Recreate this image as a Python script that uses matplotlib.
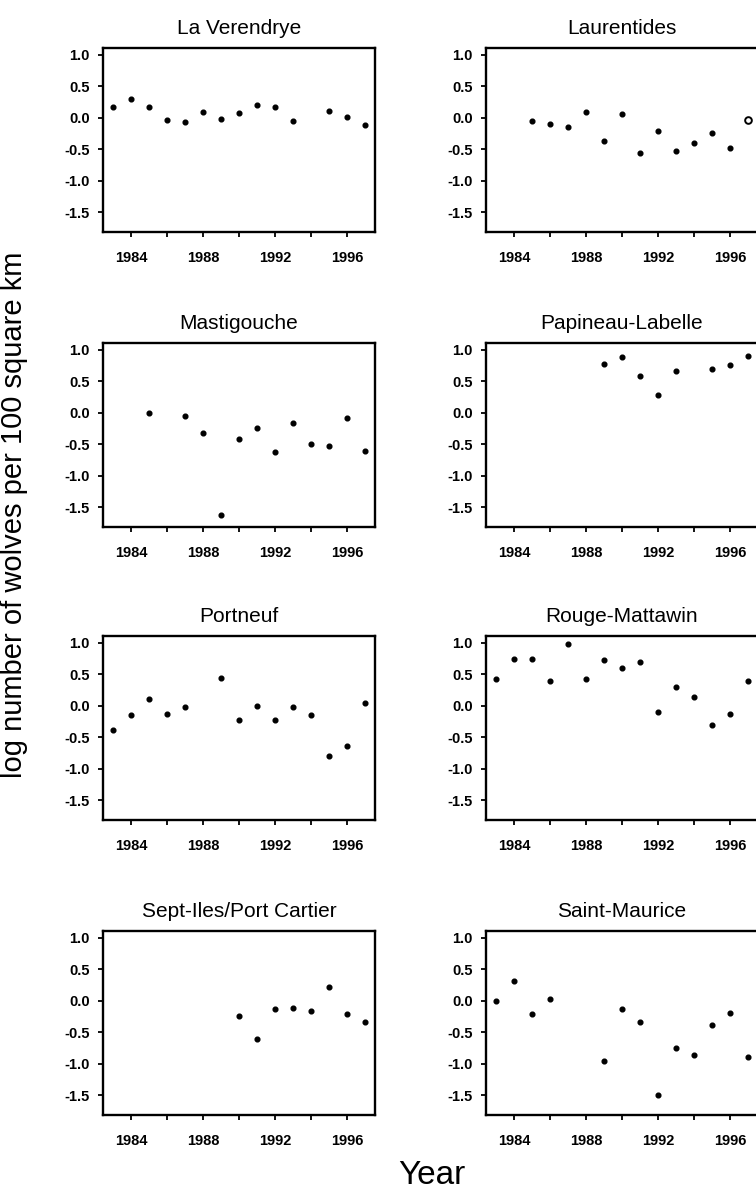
import matplotlib
matplotlib.use("Agg")
import matplotlib.pyplot as plt
import numpy as np

plt.rcParams['font.family'] = ['Liberation Sans', 'DejaVu Sans']

# ---------------------------------------------------------------
# Data: log number of wolves per 100 square km, by region
# ---------------------------------------------------------------
regions = ["La Verendrye", "Laurentides",
           "Mastigouche", "Papineau-Labelle",
           "Portneuf", "Rouge-Mattawin",
           "Sept-Iles/Port Cartier", "Saint-Maurice"]

verendrye_years = [1983, 1984, 1985, 1986, 1987, 1988, 1989, 1990, 1991, 1992, 1993, 1995, 1996, 1997]
verendrye_vals = [0.18, 0.30, 0.17, -0.03, -0.06, 0.10, -0.02, 0.08, 0.21, 0.17, -0.05, 0.11, 0.01, -0.11]

laurentides_years = [1985, 1986, 1987, 1988, 1989, 1990, 1991, 1992, 1993, 1994, 1995, 1996, 1997]
laurentides_vals = [-0.05, -0.10, -0.14, 0.09, -0.37, 0.06, -0.55, -0.20, -0.53, -0.40, -0.24, -0.47, -0.04]
laurentides_open = [1997]  # drawn as open circle

mastigouche_years = [1985, 1987, 1988, 1989, 1990, 1991, 1992, 1993, 1994, 1995, 1996, 1997]
mastigouche_vals = [0.0, -0.05, -0.32, -1.62, -0.42, -0.24, -0.62, -0.16, -0.49, -0.53, -0.08, -0.60]

papineau_years = [1989, 1990, 1991, 1992, 1993, 1995, 1996, 1997]
papineau_vals = [0.78, 0.88, 0.59, 0.28, 0.66, 0.69, 0.76, 0.90]

portneuf_years = [1983, 1984, 1985, 1986, 1987, 1989, 1990, 1991, 1992, 1993, 1994, 1995, 1996, 1997]
portneuf_vals = [-0.38, -0.14, 0.11, -0.13, -0.02, 0.44, -0.23, 0.0, -0.22, -0.01, -0.15, -0.80, -0.63, 0.05]

rouge_years = [1983, 1984, 1985, 1986, 1987, 1988, 1989, 1990, 1991, 1992, 1993, 1994, 1995, 1996, 1997]
rouge_vals = [0.42, 0.75, 0.75, 0.40, 0.99, 0.43, 0.73, 0.61, 0.69, -0.10, 0.30, 0.14, -0.30, -0.13, 0.39]

septiles_years = [1990, 1991, 1992, 1993, 1994, 1995, 1996, 1997]
septiles_vals = [-0.24, -0.61, -0.13, -0.11, -0.16, 0.22, -0.21, -0.34]

stmaurice_years = [1983, 1984, 1985, 1986, 1989, 1990, 1991, 1992, 1993, 1994, 1995, 1996, 1997]
stmaurice_vals = [0.0, 0.32, -0.21, 0.03, -0.95, -0.13, -0.34, -1.49, -0.75, -0.86, -0.38, -0.19, -0.89]

series = [(verendrye_years, verendrye_vals), (laurentides_years, laurentides_vals),
          (mastigouche_years, mastigouche_vals), (papineau_years, papineau_vals),
          (portneuf_years, portneuf_vals), (rouge_years, rouge_vals),
          (septiles_years, septiles_vals), (stmaurice_years, stmaurice_vals)]

year_labels = [1984, 1988, 1992, 1996]
year_minor = [1986, 1990, 1994]
y_ticks = [1.0, 0.5, 0.0, -0.5, -1.0, -1.5]

# ---------------------------------------------------------------
# Figure layout (pixels -> figure fractions)
# ---------------------------------------------------------------
W, H = 756, 1195
fig = plt.figure(figsize=(W / 100, H / 100), dpi=100)

col_left = [103, 486]
row_top = [48, 343, 636, 931]
ax_w, ax_h = 272, 184

for i, (name, (yrs, vals)) in enumerate(zip(regions, series)):
    r, c = divmod(i, 2)
    ax = fig.add_axes([col_left[c] / W, 1 - (row_top[r] + ax_h) / H, ax_w / W, ax_h / H])

    yrs = np.array(yrs)
    vals = np.array(vals)
    if name == "Laurentides":
        is_open = np.isin(yrs, laurentides_open)
        ax.plot(yrs[~is_open], vals[~is_open], "o", color="black", ms=3.4, ls="none")
        ax.plot(yrs[is_open], vals[is_open], "o", mfc="white", mec="black", mew=1.4, ms=4.8,
                ls="none", clip_on=False)
    else:
        ax.plot(yrs, vals, "o", color="black", ms=3.4, ls="none", clip_on=False)

    ax.set_xlim(1982.45, 1997.55)
    ax.set_ylim(-1.81, 1.11)
    ax.set_xticks(year_labels)
    ax.set_xticks(year_minor, minor=True)
    ax.set_yticks(y_ticks)
    ax.set_xticklabels([str(y) for y in year_labels], fontweight="bold", fontsize=10.5)
    ax.set_yticklabels([f"{v:.1f}" for v in y_ticks], fontweight="bold", fontsize=10.5)
    ax.tick_params(axis="both", which="both", direction="out", length=3.5, width=1.3)
    ax.tick_params(axis="x", which="both", pad=10)
    ax.tick_params(axis="y", pad=6)
    for sp in ax.spines.values():
        sp.set_linewidth(1.7)
    ax.set_title(name, fontsize=15, pad=10)

fig.text(14.5 / W, 1 - 515 / H, "log number of wolves per 100 square km",
         rotation=90, ha="center", va="center", fontsize=21)
fig.text(432 / W, 1 - 1176 / H, "Year", ha="center", va="center", fontsize=24)

fig.savefig("out.png", dpi=100)
